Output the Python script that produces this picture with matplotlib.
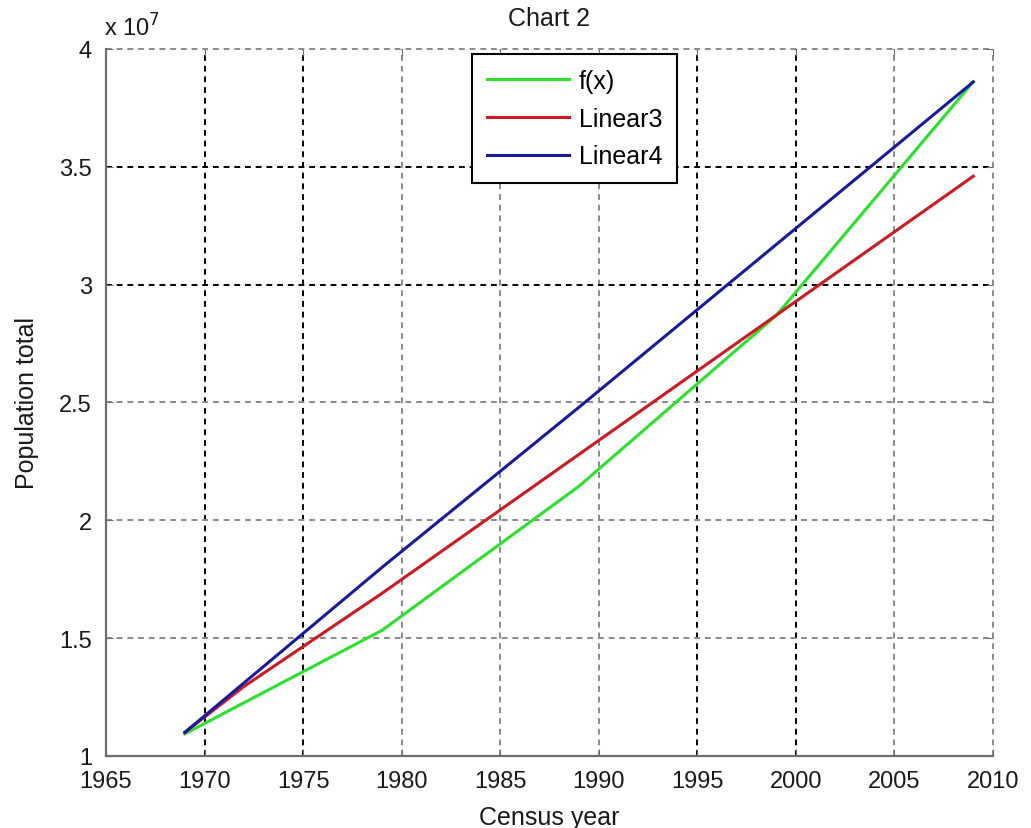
import matplotlib
matplotlib.use("Agg")
import matplotlib.pyplot as plt
from matplotlib.ticker import FuncFormatter, MultipleLocator

plt.rcParams['font.family'] = ['Liberation Sans', 'DejaVu Sans']

# 数据 (人口普查年份与人口)
years = [1969, 1972, 1979, 1989, 1999, 2009]
f_x = [10.94e6, 12.26e6, 15.33e6, 21.45e6, 28.69e6, 38.61e6]
linear3 = [11.0e6, 12.95e6, 16.9e6, 22.8e6, 28.7e6, 34.6e6]
linear4 = [11.0e6, 13.1e6, 18.0e6, 24.8e6, 31.7e6, 38.6e6]
labels = ['f(x)', 'Linear3', 'Linear4']

fig = plt.figure(figsize=(10.31, 8.29), dpi=100)
ax = fig.add_axes([0.1028, 0.0869, 0.8603, 0.8528])

ax.plot(years, f_x, color='#2ee02e', lw=2.2, label=labels[0])
ax.plot(years, linear3, color='#cc1a22', lw=2.2, label=labels[1])
ax.plot(years, linear4, color='#1a1a9c', lw=2.2, label=labels[2])

ax.set_xlim(1965, 2010)
ax.set_ylim(1e7, 4e7)
ax.xaxis.set_major_locator(MultipleLocator(5))
ax.yaxis.set_major_locator(MultipleLocator(0.5e7))
ax.yaxis.set_major_formatter(FuncFormatter(lambda v, p: f"{v / 1e7:g}"))

# 网格 (MATLAB 风格虚线)
ax.grid(True, linestyle=(0, (3, 2.5)), color='#8a8a8a', lw=1.4)

for s in ('top', 'right'):
    ax.spines[s].set_visible(False)
for s in ('left', 'bottom'):
    ax.spines[s].set_color('#6e6e6e')
    ax.spines[s].set_linewidth(1.6)

ax.tick_params(direction='in', length=5, color='#6e6e6e', labelsize=17,
               labelcolor='#1a1a1a', pad=10, top=True, right=True)

ax.set_title('Chart 2', fontsize=18, pad=17, color='#1a1a1a')
ax.set_xlabel('Census year', fontsize=18, color='#1a1a1a', va='top')
ax.xaxis.set_label_coords(0.5, -0.069)
ax.set_ylabel('Population total', fontsize=18, color='#1a1a1a', va='center')
ax.yaxis.set_label_coords(-0.0895, 0.5)
ax.text(-0.002, 1.012, r'x 10$^7$', transform=ax.transAxes, fontsize=17,
        color='#1a1a1a', ha='left', va='bottom')

leg = ax.legend(loc='upper left', bbox_to_anchor=(0.4126, 0.993), borderaxespad=0,
                fontsize=18, handlelength=3.3, handletextpad=0.38, labelspacing=0.55,
                borderpad=0.6, fancybox=False, framealpha=1)
leg.get_frame().set_edgecolor('black')
leg.get_frame().set_linewidth(1.5)

# 部分网格线颜色较深
fig.canvas.draw()
for t in ax.xaxis.get_major_ticks():
    t.gridline.set_clip_on(False)
    if round(t.get_loc()) in (1970, 1975, 1995, 2000):
        t.gridline.set_color('black')
for t in ax.yaxis.get_major_ticks():
    t.gridline.set_clip_on(False)
    if round(t.get_loc() / 1e6) in (30, 35):
        t.gridline.set_color('black')

fig.savefig('out.png', dpi=100)
